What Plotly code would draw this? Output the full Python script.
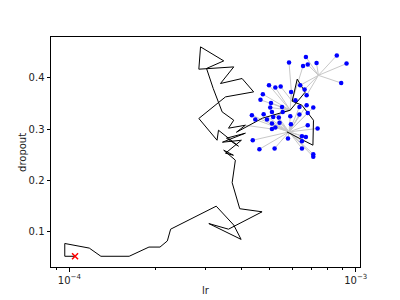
import plotly.graph_objects as go

# Black search path (mean trajectory)
path_lr = [1.047e-4, 0.964e-4, 0.964e-4, 1.174e-4, 1.289e-4, 1.618e-4, 1.897e-4, 2.073e-4, 2.199e-4, 2.258e-4,
           3.258e-4, 3.751e-4, 3.98e-4, 3.07e-4, 3.595e-4, 4.71e-4, 3.936e-4, 3.703e-4, 3.80e-4, 3.46e-4,
           3.742e-4, 3.51e-4, 3.989e-4, 3.425e-4, 4.119e-4, 3.538e-4, 3.895e-4, 3.318e-4, 3.28e-4,
           2.833e-4, 3.51e-4, 4.402e-4, 4.011e-4, 3.371e-4, 3.751e-4, 2.833e-4, 2.872e-4, 3.461e-4, 3.014e-4,
           3.18e-4, 3.417e-4, 3.751e-4, 3.596e-4, 4.119e-4, 3.833e-4, 4.72e-4, 5.906e-4, 6.661e-4, 6.248e-4,
           6.0e-4, 6.487e-4, 7.12e-4, 7.09e-4, 5.753e-4]
path_dropout = [0.051, 0.051, 0.076, 0.067, 0.051, 0.051, 0.069, 0.069, 0.081, 0.104,
                0.149, 0.112, 0.084, 0.115, 0.104, 0.138, 0.144, 0.195, 0.239, 0.2585,
                0.2487, 0.2527, 0.278, 0.2742, 0.2918, 0.282, 0.2664, 0.2976, 0.278,
                0.3206, 0.3628, 0.3726, 0.3988, 0.389, 0.4215, 0.417, 0.4607, 0.4333, 0.4184,
                0.3793, 0.3335, 0.3172, 0.3016, 0.3074, 0.2937, 0.3211, 0.3368, 0.372, 0.3975,
                0.3544, 0.3466, 0.3172, 0.2683, 0.2943]

# Parent points that samples are linked to
hub_lr = [7.41e-4, 5.85e-4, 5.906e-4, 6.0e-4, 4.119e-4]
hub_dropout = [0.405, 0.2943, 0.3368, 0.3544, 0.3074]

# Blue samples
sample_lr = [5.85e-4, 6.70e-4, 6.55e-4, 6.80e-4, 7.30e-4, 8.59e-4, 9.29e-4, 8.90e-4, 4.98e-4, 5.24e-4,
             5.47e-4, 4.74e-4, 5.95e-4, 6.40e-4, 6.63e-4, 4.65e-4, 5.06e-4, 6.16e-4, 6.74e-4, 5.03e-4,
             5.53e-4, 6.36e-4, 6.74e-4, 7.11e-4, 4.34e-4, 4.77e-4, 5.10e-4, 5.56e-4, 4.46e-4, 4.90e-4,
             5.15e-4, 5.39e-4, 5.91e-4, 6.36e-4, 6.80e-4, 5.10e-4, 5.42e-4, 5.94e-4, 6.80e-4, 7.36e-4,
             5.24e-4, 5.10e-4, 4.37e-4, 5.80e-4, 6.49e-4, 6.70e-4, 4.61e-4, 5.21e-4, 6.49e-4, 7.11e-4,
             7.11e-4, 6.49e-4]
sample_dropout = [0.430, 0.441, 0.4235, 0.426, 0.429, 0.444, 0.428, 0.390, 0.3857, 0.381,
                  0.383, 0.368, 0.3726, 0.3857, 0.3775, 0.357, 0.351, 0.3564, 0.366, 0.342,
                  0.343, 0.343, 0.3466, 0.342, 0.327, 0.329, 0.3335, 0.3335, 0.3186, 0.3186,
                  0.3237, 0.3225, 0.325, 0.3284, 0.3315, 0.3108, 0.312, 0.3094, 0.3074, 0.301,
                  0.303, 0.300, 0.278, 0.2814, 0.286, 0.2845, 0.2605, 0.262, 0.262, 0.2507,
                  0.2458, 0.276]
sample_hub = [3, 0, 3, 0, 0, 0, 0, 0, 2, 2,
              3, 2, 2, 0, 0, 2, 2, 3, 0, 2,
              2, 1, 1, 1, 1, 1, 1, 2, 1, 1,
              2, 1, 1, 1, 1, 1, 1, 1, 1, 1,
              1, 4, 1, 1, 1, 1, 1, 1, 1, 1,
              1, 1]

start_lr = [1.047e-4]
start_dropout = [0.051]

x_ticks = [1e-4, 1e-3]
x_ticktext = ["10<sup>−4</sup>", "10<sup>−3</sup>"]
x_minor = [9e-5, 2e-4, 3e-4, 4e-4, 5e-4, 6e-4, 7e-4, 8e-4, 9e-4]
y_ticks = [0.1, 0.2, 0.3, 0.4]
x_title = "lr"
y_title = "dropout"

gx, gy = [], []
for lr, d, h in zip(sample_lr, sample_dropout, sample_hub):
    gx += [hub_lr[h], lr, None]
    gy += [hub_dropout[h], d, None]

fig = go.Figure()
fig.add_trace(go.Scatter(x=gx, y=gy, mode="lines", line=dict(color="#c8c8c8", width=1), hoverinfo="skip"))
fig.add_trace(go.Scatter(x=path_lr, y=path_dropout, mode="lines", line=dict(color="black", width=1)))
fig.add_trace(go.Scatter(x=sample_lr, y=sample_dropout, mode="markers",
                         marker=dict(color="#0000ff", size=4.5, line=dict(width=0))))
fig.add_trace(go.Scatter(x=start_lr, y=start_dropout, mode="markers",
                         marker=dict(symbol="x-thin", size=6, line=dict(color="red", width=1.5))))

font = dict(family="DejaVu Sans", size=10, color="#222")
axis_common = dict(showline=True, linecolor="black", linewidth=1, mirror=True, showgrid=False,
                   zeroline=False, ticks="outside", ticklen=3.5, tickcolor="black",
                   tickfont=font, automargin=False)
fig.update_layout(
    width=400, height=300, margin=dict(l=51, r=40, t=37, b=33),
    plot_bgcolor="white", paper_bgcolor="white", showlegend=False,
    xaxis=dict(type="log", range=[-4.064, -2.985], tickvals=x_ticks, ticktext=x_ticktext,
               minor=dict(tickmode="array", tickvals=x_minor, ticks="outside", ticklen=2,
                          tickcolor="black", showgrid=False),
               **axis_common),
    yaxis=dict(range=[0.030, 0.480], tickvals=y_ticks, tickformat=".1f", **axis_common),
    annotations=[
        dict(text=x_title, xref="paper", yref="paper", x=0.5, y=-0.104, showarrow=False,
             xanchor="center", yanchor="middle", font=font),
        dict(text=y_title, xref="paper", yref="paper", x=-0.094, y=0.5, showarrow=False,
             xanchor="center", yanchor="middle", textangle=-90, font=font),
    ],
)
fig.write_html("out.html")
